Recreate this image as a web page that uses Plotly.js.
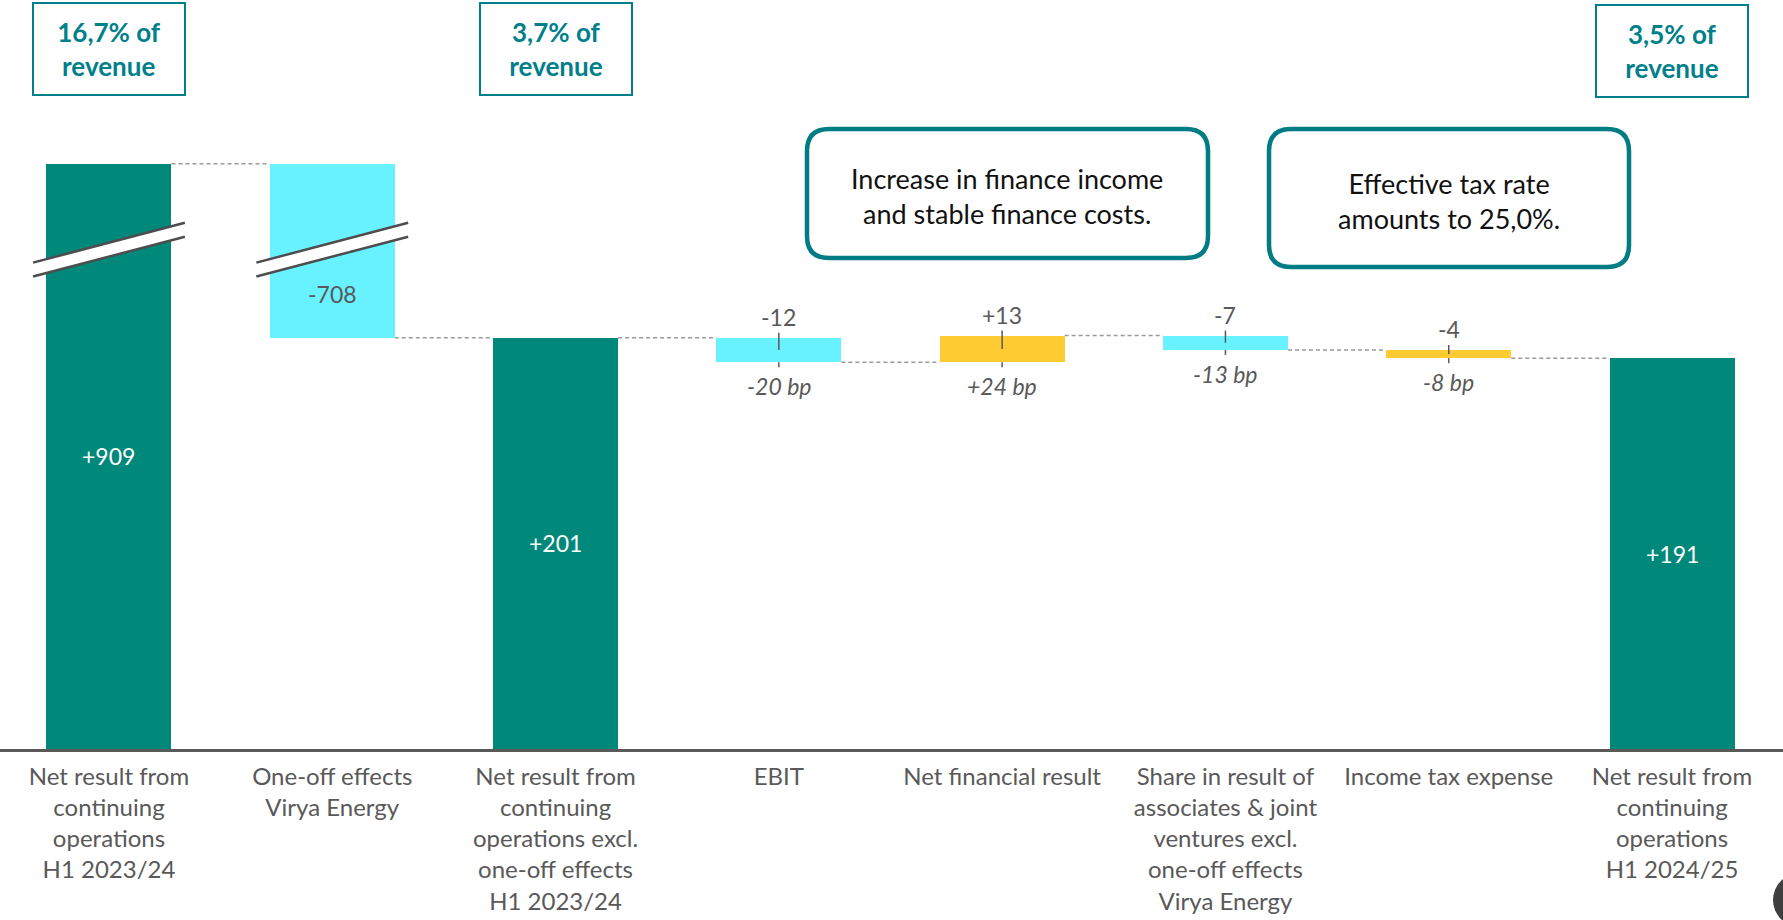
<!DOCTYPE html>
<html>
<head>
<meta charset="utf-8">
<script src="https://cdn.plot.ly/plotly-3.0.1.min.js"></script>
<style>
  html, body { margin: 0; padding: 0; background: #ffffff; }
  #chart { width: 1783px; height: 920px; }
</style>
</head>
<body>
<div id="chart"></div>
<script>
// ---------------- data ----------------
const categories = [
  'Net result from<br>continuing<br>operations<br>H1 2023/24',
  'One-off effects<br>Virya Energy',
  'Net result from<br>continuing<br>operations excl.<br>one-off effects<br>H1 2023/24',
  'EBIT',
  'Net financial result',
  'Share in result of<br>associates & joint<br>ventures excl.<br>one-off effects<br>Virya Energy',
  'Income tax expense',
  'Net result from<br>continuing<br>operations<br>H1 2024/25'
];
const values = [909, -708, 201, -12, 13, -7, -4, 191];
const kinds = ['total', 'delta', 'total', 'delta', 'delta', 'delta', 'delta', 'total'];
const groups = ['result', 'adjustment', 'result', 'adjustment', 'financing', 'adjustment', 'financing', 'result'];
const bpLabels = ['', '', '', '-20 bp', '+24 bp', '-13 bp', '-8 bp', ''];
const revenueShare = ['16,7%', '', '3,7%', '', '', '', '', '3,5%'];
const noteTexts = [
  'Increase in finance income<br>and stable finance costs.',
  'Effective tax rate<br>amounts to 25,0%.'
];
// value range hidden by the broken axis
const axisBreak = { from: 244, to: 867 };

// ---------------- style ----------------
const GROUP_COLORS = { result: '#00887A', adjustment: '#68F2FF', financing: '#FFCB33' };
const FONT = 'Lato, "Open Sans", sans-serif';
const GRAY = '#595959';
const TEAL = '#00808A';
const BOX_TEAL = '#007C85';
const BAR_W = 0.56;
const W = 1783, H = 920, MB = 171;
const PLOT_H = H - MB;
const Y_MAX = 366;
const PPU = PLOT_H / Y_MAX;        // pixels per value unit

// ---------------- derived ----------------
const gap = axisBreak.to - axisBreak.from;
const disp = v => v <= axisBreak.from ? v : (v >= axisBreak.to ? v - gap : axisBreak.from);

const lo = [], hi = [], levelAfter = [];
let running = 0;
values.forEach((v, i) => {
  if (kinds[i] === 'total') {
    lo.push(0); hi.push(v); running = v;
  } else {
    lo.push(Math.min(running, running + v));
    hi.push(Math.max(running, running + v));
    running += v;
  }
  levelAfter.push(running);
});
const idx = values.map((_, i) => i);
const fmt = v => (v > 0 ? '+' : '-') + Math.abs(v);

const trace = {
  type: 'bar',
  x: idx,
  base: lo.map(disp),
  y: hi.map((h, i) => disp(h) - disp(lo[i])),
  width: BAR_W,
  marker: { color: groups.map(g => GROUP_COLORS[g]), line: { width: 0 } },
  hoverinfo: 'skip',
  showlegend: false
};

const shapes = [];
const annotations = [];

// connectors
for (let i = 0; i < values.length - 1; i++) {
  const y = disp(levelAfter[i]);
  shapes.push({
    type: 'line', xref: 'x', yref: 'y',
    x0: i + BAR_W / 2, x1: i + 1 - BAR_W / 2, y0: y, y1: y,
    line: { color: '#9A9A9A', width: 1.5, dash: '4px,3px' }, layer: 'below'
  });
}

// labels + tick marks
values.forEach((v, i) => {
  const top = disp(hi[i]), bot = disp(lo[i]);
  if (kinds[i] === 'total') {
    annotations.push({
      x: i, y: (top + bot) / 2, xref: 'x', yref: 'y', text: fmt(v), showarrow: false,
      xanchor: 'center', yanchor: 'middle',
      font: { family: FONT, size: 23, color: '#ffffff' }
    });
  } else if (hi[i] > axisBreak.from) {
    annotations.push({
      x: i, y: (bot + axisBreak.from) / 2, xref: 'x', yref: 'y', text: fmt(v), showarrow: false,
      xanchor: 'center', yanchor: 'middle',
      font: { family: FONT, size: 23, color: GRAY }
    });
  } else {
    annotations.push({
      x: i, y: top, xref: 'x', yref: 'y', yshift: 21, text: fmt(v), showarrow: false,
      xanchor: 'center', yanchor: 'middle',
      font: { family: FONT, size: 23, color: GRAY }
    });
    if (bpLabels[i]) {
      annotations.push({
        x: i, y: bot, xref: 'x', yref: 'y', yshift: -24, text: '<i>' + bpLabels[i] + '</i>', showarrow: false,
        xanchor: 'center', yanchor: 'middle',
        font: { family: FONT, size: 23, color: GRAY }
      });
    }
    const tick = { color: '#595959', width: 1.5 };
    shapes.push({ type: 'line', xref: 'x', yref: 'y', x0: i, x1: i,
      y0: top + 5 / PPU, y1: (top + bot) / 2, line: tick });
    shapes.push({ type: 'line', xref: 'x', yref: 'y', x0: i, x1: i,
      y0: bot, y1: bot - 5 / PPU, line: tick });
  }
});

// axis break marks on bars crossing the break
values.forEach((v, i) => {
  if (hi[i] > axisBreak.from && lo[i] < axisBreak.from) {
    const c = axisBreak.from, hg = 3.4, rise = 9.75, ext = 0.34;
    const xl = i - ext, xr = i + ext;
    shapes.push({
      type: 'path', xref: 'x', yref: 'y',
      path: `M ${xl},${c - hg - rise} L ${xr},${c - hg + rise} L ${xr},${c + hg + rise} L ${xl},${c + hg - rise} Z`,
      fillcolor: '#ffffff', line: { width: 0 }
    });
    [c - hg, c + hg].forEach(m => shapes.push({
      type: 'line', xref: 'x', yref: 'y', x0: xl, x1: xr, y0: m - rise, y1: m + rise,
      line: { color: '#4D4D4D', width: 2.5 }
    }));
  }
});

// revenue boxes
revenueShare.forEach((s, i) => {
  if (!s) return;
  annotations.push({
    x: i, xref: 'x', y: 1, yref: 'paper', xanchor: 'center', yanchor: 'top', yshift: i === 7 ? -4 : -2,
    text: '<b>' + s + ' of<br>revenue</b>', showarrow: false,
    width: 146, height: 86, borderpad: 2, borderwidth: 2, bordercolor: TEAL,
    bgcolor: '#ffffff',
    font: { family: FONT, size: 26, color: TEAL }
  });
});

// note call-outs (pixel boxes -> paper)
const px = x => x / W, py = y => (PLOT_H - y) / PLOT_H;
const noteBoxes = [
  { x0: 807, x1: 1208, y0: 129, y1: 258, ty: 196 },
  { x0: 1269, x1: 1629, y0: 129, y1: 267, ty: 201 }
];
noteBoxes.forEach((b, k) => {
  const r = 22;
  const X = px, Y = py;
  const path = [
    `M ${X(b.x0 + r)},${Y(b.y0)}`,
    `L ${X(b.x1 - r)},${Y(b.y0)}`,
    `Q ${X(b.x1)},${Y(b.y0)} ${X(b.x1)},${Y(b.y0 + r)}`,
    `L ${X(b.x1)},${Y(b.y1 - r)}`,
    `Q ${X(b.x1)},${Y(b.y1)} ${X(b.x1 - r)},${Y(b.y1)}`,
    `L ${X(b.x0 + r)},${Y(b.y1)}`,
    `Q ${X(b.x0)},${Y(b.y1)} ${X(b.x0)},${Y(b.y1 - r)}`,
    `L ${X(b.x0)},${Y(b.y0 + r)}`,
    `Q ${X(b.x0)},${Y(b.y0)} ${X(b.x0 + r)},${Y(b.y0)}`,
    'Z'
  ].join(' ');
  shapes.push({ type: 'path', xref: 'paper', yref: 'paper', path: path,
    line: { color: BOX_TEAL, width: 4.5 }, fillcolor: 'rgba(0,0,0,0)' });
  annotations.push({
    x: X((b.x0 + b.x1) / 2), y: Y(b.ty), xref: 'paper', yref: 'paper',
    xanchor: 'center', yanchor: 'middle',
    text: noteTexts[k], showarrow: false,
    font: { family: FONT, size: 27, color: '#111111' }
  });
});

// slide page-number badge (partial circle at bottom-right)
shapes.push({ type: 'circle', xref: 'paper', yref: 'paper',
  x0: px(1773), x1: px(1827), y0: py(927), y1: py(873),
  fillcolor: '#404040', line: { width: 0 } });

const layout = {
  width: W, height: H,
  margin: { l: 0, r: 0, t: 0, b: MB, pad: 0 },
  paper_bgcolor: '#ffffff', plot_bgcolor: '#ffffff',
  showlegend: false,
  bargap: 0,
  xaxis: {
    range: [-0.488, values.length - 0.503],
    tickvals: idx, ticktext: categories,
    showline: true, linecolor: '#595959', linewidth: 3,
    showgrid: false, zeroline: false, ticks: '',
    ticklabelstandoff: 4,
    tickfont: { family: FONT, size: 24, color: GRAY },
    fixedrange: true
  },
  yaxis: {
    range: [0, Y_MAX], visible: false, showgrid: false, zeroline: false, fixedrange: true
  },
  shapes: shapes,
  annotations: annotations,
  font: { family: FONT }
};

Plotly.newPlot('chart', [trace], layout, { displayModeBar: false, staticPlot: true });
</script>
</body>
</html>
